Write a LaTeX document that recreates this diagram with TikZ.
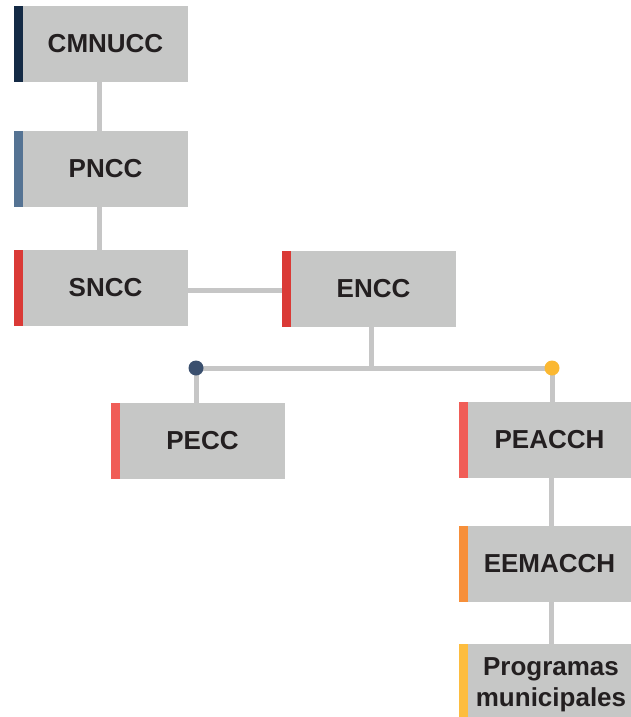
\documentclass[tikz,border=0pt]{standalone}
\usepackage{fontspec}
\setmainfont{Liberation Sans}
\definecolor{boxgray}{HTML}{C6C7C6}
\definecolor{linegray}{HTML}{C6C6C6}
\definecolor{txt}{HTML}{231F20}
\definecolor{navy}{HTML}{142A45}
\definecolor{steel}{HTML}{557393}
\definecolor{redA}{HTML}{DA3A36}
\definecolor{redB}{HTML}{F05D57}
\definecolor{orangeA}{HTML}{F68F3A}
\definecolor{yellowA}{HTML}{FDBD3F}
\definecolor{dotblue}{HTML}{3A4F6E}
\definecolor{dotyellow}{HTML}{FBB832}
\tikzset{
  orgbox/.style={fill=boxgray, minimum width=165pt, minimum height=76pt, inner sep=0pt,
    text=txt, font=\fontsize{26}{31}\selectfont\bfseries, align=center},
  orgtext/.style={inner sep=0pt, text=txt, font=\fontsize{26}{31}\selectfont\bfseries, align=center},
  conn/.style={draw=linegray, line width=5pt},
  dot/.style={circle, inner sep=0pt, minimum size=15pt}
}
\newcommand{\leftbar}[2]{\fill[#2] ([xshift=-9pt]#1.north west) rectangle (#1.south west);}
\begin{document}
\begin{tikzpicture}[x=1pt,y=-1pt]
\useasboundingbox (0,0) rectangle (631,717);
% boxes
\node[orgbox] (cm) at (105.5,44) {CMNUCC};
\node[orgbox] (pn) at (105.5,169) {PNCC};
\node[orgbox] (sn) at (105.5,288) {SNCC};
\node[orgbox] (en) at (373.5,289) {ENCC};
\node[orgbox] (pe) at (202.5,441) {PECC};
\node[orgbox, minimum width=163pt] (pa) at (549.5,440) {PEACCH};
\node[orgbox, minimum width=163pt] (ee) at (549.5,564) {EEMACCH};
\node[orgbox, minimum width=163pt, minimum height=73pt] (pm) at (549.5,680.5) {};
\node[orgtext] (pmt) at (551,685) {Programas\\municipales};
% bars
\leftbar{cm}{navy}
\leftbar{pn}{steel}
\leftbar{sn}{redA}
\leftbar{en}{redA}
\leftbar{pe}{redB}
\leftbar{pa}{redB}
\leftbar{ee}{orangeA}
\leftbar{pm}{yellowA}
% junction coordinates
\coordinate (jc) at (371,368);
\node[dot] (dl) at (196,368) {};
\node[dot] (dr) at (552,368) {};
% connectors
\draw[conn] (cm.south -| 99,0) -- (pn.north -| 99,0);
\draw[conn] (pn.south -| 99,0) -- (sn.north -| 99,0);
\draw[conn] (sn.east |- 0,290) -- ([xshift=-9pt]en.west |- 0,290);
\draw[conn] (en.south -| jc) -- (jc);
\draw[conn] (dl.center) -- (dr.center);
\draw[conn] (dl.center) -- (pe.north -| dl);
\draw[conn] (dr.center) -- (pa.north -| dr);
\draw[conn] (pa.south -| 551,0) -- (ee.north -| 551,0);
\draw[conn] (ee.south -| 551,0) -- (pm.north -| 551,0);
\fill[dotblue] (dl) circle[radius=7.5pt];
\fill[dotyellow] (dr) circle[radius=7.5pt];
\end{tikzpicture}
\end{document}
